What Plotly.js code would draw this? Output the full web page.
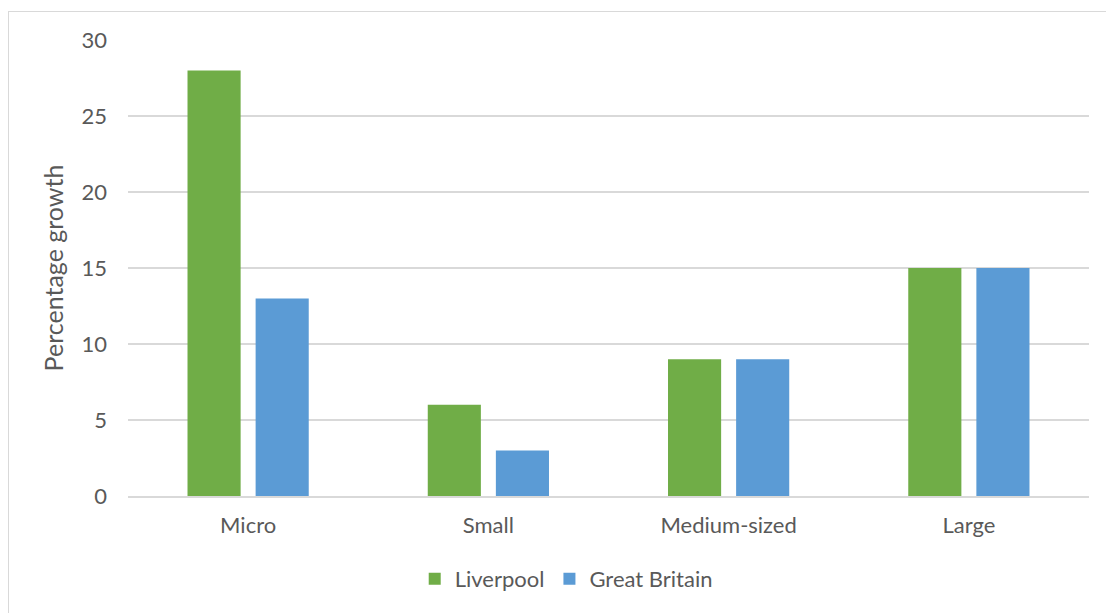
<!DOCTYPE html>
<html>
<head>
<meta charset="utf-8">
<script src="https://cdn.plot.ly/plotly-3.0.1.min.js"></script>
<style>
html,body{margin:0;padding:0;background:#fff;}
#frame{position:absolute;left:8px;top:11px;width:1110px;height:620px;border:1.5px solid #d9d9d9;box-sizing:border-box;}
#chart{position:absolute;left:0;top:0;width:1106px;height:613px;}
</style>
</head>
<body>
<div id="frame"></div>
<div id="chart"></div>
<script>
const categories = ["Micro", "Small", "Medium-sized", "Large"];
const liverpool = [28, 6, 9, 15];
const greatBritain = [13, 3, 9, 15];
const seriesNames = ["Liverpool", "Great Britain"];
const yTicks = [0, 5, 10, 15, 20, 25, 30];

const font = "Lato, 'Open Sans', sans-serif";
const traces = [
  {type: "bar", name: seriesNames[0], x: categories, y: liverpool, marker: {color: "#70AD47"}},
  {type: "bar", name: seriesNames[1], x: categories, y: greatBritain, marker: {color: "#5B9BD5"}}
];
const layout = {
  width: 1106, height: 613,
  paper_bgcolor: "rgba(0,0,0,0)", plot_bgcolor: "rgba(0,0,0,0)",
  margin: {l: 128, r: 17, t: 40, b: 117},
  barmode: "group", bargap: 0.433, bargroupgap: 0.22,
  font: {family: font, size: 22, color: "#595959"},
  showlegend: true,
  legend: {orientation: "h", x: 0.456, xanchor: "center", y: -0.182, yanchor: "middle",
           font: {family: font, size: 22, color: "#595959"}, itemwidth: 30, traceorder: "normal"},
  xaxis: {type: "category", showgrid: false, showline: true, linecolor: "#d9d9d9", linewidth: 2,
          ticks: "", ticklabelstandoff: 9, tickfont: {size: 22, color: "#595959"}},
  yaxis: {range: [0, 30], tickvals: yTicks, showgrid: true, gridcolor: "#d9d9d9", gridwidth: 1.3,
          zeroline: false, showline: false, ticks: "", ticklabelstandoff: 20,
          tickfont: {size: 22, color: "#595959"},
          title: {text: "Percentage growth", font: {size: 25, color: "#595959"}, standoff: 10}}
};
Plotly.newPlot("chart", traces, layout, {displayModeBar: false, staticPlot: true});
</script>
</body>
</html>
